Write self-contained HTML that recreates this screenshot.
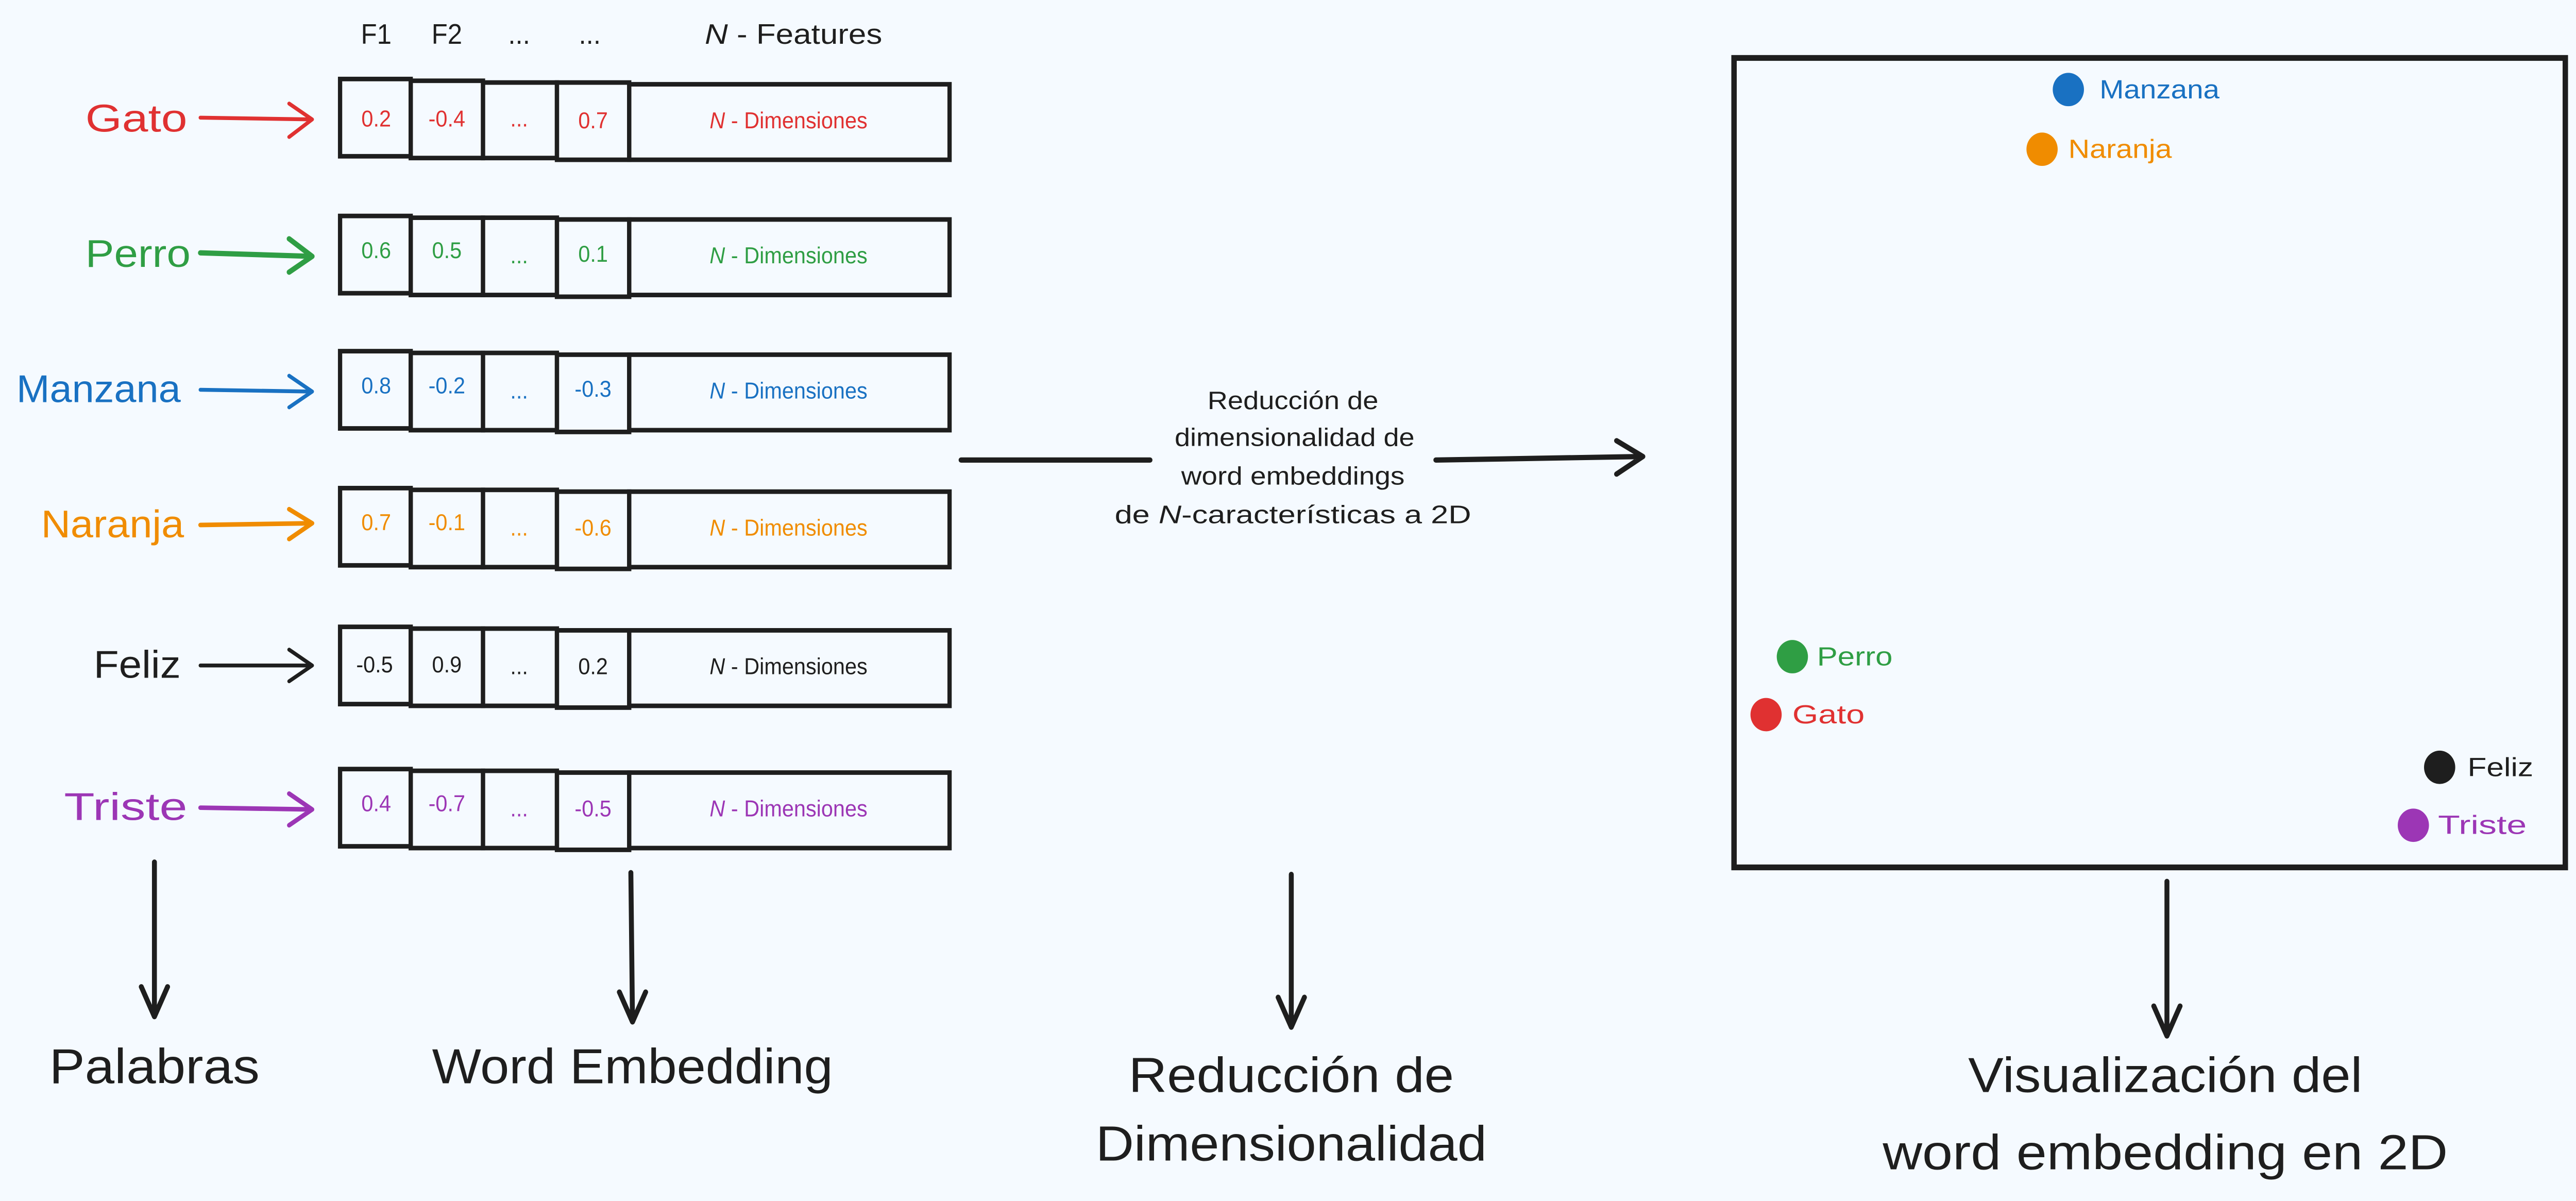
<!DOCTYPE html>
<html><head><meta charset="utf-8"><style>
html,body{margin:0;padding:0;background:#f5faff;overflow:hidden;width:100%;height:100%;}
svg{display:block;width:100vw;height:100vh;}
text{font-family:"Liberation Sans",sans-serif;}
</style></head><body>
<svg viewBox="0 0 1568 684" preserveAspectRatio="none" xmlns="http://www.w3.org/2000/svg">
<rect width="1568" height="684" fill="#f5faff"/>
<g font-size="16" fill="#1e1e1e" text-anchor="middle">
<text x="229" y="25">F1</text><text x="272" y="25">F2</text>
<text x="316" y="25">...</text><text x="359" y="25">...</text>
<text x="483" y="25" textLength="108" lengthAdjust="spacingAndGlyphs"><tspan font-style="italic">N</tspan> - Features</text>
</g>
<g fill="none" stroke="#1e1e1e" stroke-width="2.6">
<rect x="207" y="45" width="43" height="44"/><rect x="250" y="46" width="44" height="44"/><rect x="294" y="47" width="45" height="43"/><rect x="339" y="47" width="44" height="44"/><rect x="383" y="48" width="195" height="43"/>
<rect x="207" y="123" width="43" height="44"/><rect x="250" y="124" width="44" height="44"/><rect x="294" y="124" width="45" height="44"/><rect x="339" y="125" width="44" height="44"/><rect x="383" y="125" width="195" height="43"/>
<rect x="207" y="200" width="43" height="44"/><rect x="250" y="201" width="44" height="44"/><rect x="294" y="201" width="45" height="44"/><rect x="339" y="202" width="44" height="44"/><rect x="383" y="202" width="195" height="43"/>
<rect x="207" y="278" width="43" height="44"/><rect x="250" y="279" width="44" height="44"/><rect x="294" y="279" width="45" height="44"/><rect x="339" y="280" width="44" height="44"/><rect x="383" y="280" width="195" height="43"/>
<rect x="207" y="357" width="43" height="44"/><rect x="250" y="358" width="44" height="44"/><rect x="294" y="358" width="45" height="44"/><rect x="339" y="359" width="44" height="44"/><rect x="383" y="359" width="195" height="43"/>
<rect x="207" y="438" width="43" height="44"/><rect x="250" y="439" width="44" height="44"/><rect x="294" y="439" width="45" height="44"/><rect x="339" y="440" width="44" height="44"/><rect x="383" y="440" width="195" height="43"/>
</g>
<g font-size="13" text-anchor="middle">
<g fill="#e03131"><text x="229" y="72">0.2</text><text x="272" y="72">-0.4</text><text x="316" y="72">...</text><text x="361" y="73">0.7</text><text x="480" y="73"><tspan font-style="italic">N</tspan> - Dimensiones</text></g>
<g fill="#2f9e44"><text x="229" y="147">0.6</text><text x="272" y="147">0.5</text><text x="316" y="150">...</text><text x="361" y="149">0.1</text><text x="480" y="150"><tspan font-style="italic">N</tspan> - Dimensiones</text></g>
<g fill="#1971c2"><text x="229" y="224">0.8</text><text x="272" y="224">-0.2</text><text x="316" y="227">...</text><text x="361" y="226">-0.3</text><text x="480" y="227"><tspan font-style="italic">N</tspan> - Dimensiones</text></g>
<g fill="#f08c00"><text x="229" y="302">0.7</text><text x="272" y="302">-0.1</text><text x="316" y="305">...</text><text x="361" y="305">-0.6</text><text x="480" y="305"><tspan font-style="italic">N</tspan> - Dimensiones</text></g>
<g fill="#1e1e1e"><text x="228" y="383">-0.5</text><text x="272" y="383">0.9</text><text x="316" y="384">...</text><text x="361" y="384">0.2</text><text x="480" y="384"><tspan font-style="italic">N</tspan> - Dimensiones</text></g>
<g fill="#9c36b5"><text x="229" y="462">0.4</text><text x="272" y="462">-0.7</text><text x="316" y="465">...</text><text x="361" y="465">-0.5</text><text x="480" y="465"><tspan font-style="italic">N</tspan> - Dimensiones</text></g>
</g>
<g font-size="22" text-anchor="end">
<text x="114" y="75" fill="#e03131" textLength="62" lengthAdjust="spacingAndGlyphs">Gato</text>
<text x="116" y="152" fill="#2f9e44" textLength="64" lengthAdjust="spacingAndGlyphs">Perro</text>
<text x="110" y="229" fill="#1971c2" textLength="100" lengthAdjust="spacingAndGlyphs">Manzana</text>
<text x="112" y="306" fill="#f08c00" textLength="87" lengthAdjust="spacingAndGlyphs">Naranja</text>
<text x="110" y="386" fill="#1e1e1e" textLength="53" lengthAdjust="spacingAndGlyphs">Feliz</text>
<text x="114" y="467" fill="#9c36b5" textLength="75" lengthAdjust="spacingAndGlyphs">Triste</text>
</g>
<g fill="none" stroke-width="2.2" stroke-linecap="round" stroke-linejoin="round">
<path d="M122 67 L190 68 M176 59 L190 68 L176 78" stroke="#e03131"/>
<path d="M122 144 L190 146 M176 136 L190 146 L176 155" stroke="#2f9e44" stroke-width="3"/>
<path d="M122 222 L190 223 M176 214 L190 223 L176 232" stroke="#1971c2"/>
<path d="M122 299 L190 298 M176 290 L190 298 L176 307" stroke="#f08c00" stroke-width="2.6"/>
<path d="M122 379 L190 379 M176 370 L190 379 L176 388" stroke="#1e1e1e"/>
<path d="M122 460 L190 461 M176 452 L190 461 L176 470" stroke="#9c36b5" stroke-width="2.6"/>
</g>
<g fill="none" stroke="#1e1e1e" stroke-width="3" stroke-linecap="round" stroke-linejoin="round">
<path d="M94 491 L94 579 M86 562 L94 579 L102 562"/>
<path d="M384 497 L385 582 M377 565 L385 582 L393 565"/>
<path d="M786 498 L786 585 M778 568 L786 585 L794 568"/>
<path d="M1319 502 L1319 590 M1311 573 L1319 590 L1327 573"/>
<path d="M585 262 L700 262"/>
<path d="M874 262 L1000 260 M984 251 L1000 260 L984 270"/>
</g>
<g font-size="14.5" fill="#1e1e1e" text-anchor="middle">
<text x="787" y="233" textLength="104" lengthAdjust="spacingAndGlyphs">Reducción de</text>
<text x="788" y="254" textLength="146" lengthAdjust="spacingAndGlyphs">dimensionalidad de</text>
<text x="787" y="276" textLength="136" lengthAdjust="spacingAndGlyphs">word embeddings</text>
<text x="787" y="298" textLength="217" lengthAdjust="spacingAndGlyphs">de <tspan font-style="italic">N</tspan>-características a 2D</text>
</g>
<g font-size="28" fill="#1e1e1e" text-anchor="middle">
<text x="94" y="617" textLength="128" lengthAdjust="spacingAndGlyphs">Palabras</text>
<text x="385" y="617" textLength="244" lengthAdjust="spacingAndGlyphs">Word Embedding</text>
<text x="786" y="622" textLength="198" lengthAdjust="spacingAndGlyphs">Reducción de</text>
<text x="786" y="661" textLength="238" lengthAdjust="spacingAndGlyphs">Dimensionalidad</text>
<text x="1318" y="622" textLength="240" lengthAdjust="spacingAndGlyphs">Visualización del</text>
<text x="1318" y="666" textLength="344" lengthAdjust="spacingAndGlyphs">word embedding en 2D</text>
</g>
<rect x="1055.5" y="33" width="506" height="461" fill="none" stroke="#1e1e1e" stroke-width="3.3"/>
<g font-size="15">
<circle cx="1259" cy="51" r="9.5" fill="#1971c2"/><text x="1278" y="56" fill="#1971c2" textLength="73" lengthAdjust="spacingAndGlyphs">Manzana</text>
<circle cx="1243" cy="85" r="9.5" fill="#f08c00"/><text x="1259" y="90" fill="#f08c00" textLength="63" lengthAdjust="spacingAndGlyphs">Naranja</text>
<circle cx="1091" cy="374" r="9.5" fill="#2f9e44"/><text x="1106" y="379" fill="#2f9e44" textLength="46" lengthAdjust="spacingAndGlyphs">Perro</text>
<circle cx="1075" cy="407" r="9.5" fill="#e03131"/><text x="1091" y="412" fill="#e03131" textLength="44" lengthAdjust="spacingAndGlyphs">Gato</text>
<circle cx="1485" cy="437" r="9.5" fill="#1e1e1e"/><text x="1502" y="442" fill="#1e1e1e" textLength="40" lengthAdjust="spacingAndGlyphs">Feliz</text>
<circle cx="1469" cy="470" r="9.5" fill="#9c36b5"/><text x="1484" y="475" fill="#9c36b5" textLength="54" lengthAdjust="spacingAndGlyphs">Triste</text>
</g>
</svg>
</body></html>
